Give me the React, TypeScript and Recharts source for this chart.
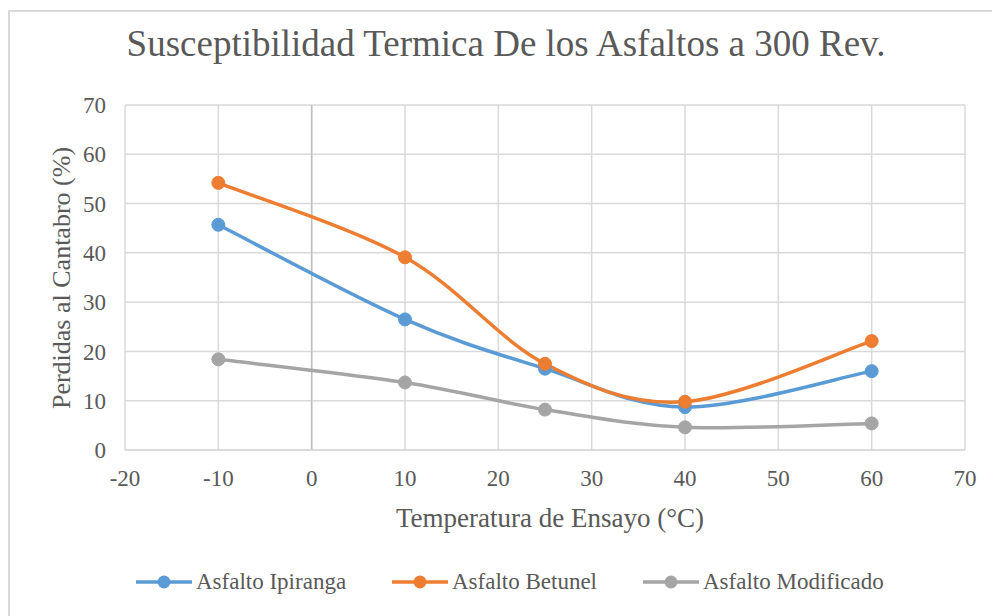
import { LineChart, Line, XAxis, YAxis, CartesianGrid, ReferenceLine } from 'recharts';

const temps = [-10, 10, 25, 40, 60];
const ipiranga = [45.7, 26.5, 16.5, 8.7, 16.0];
const betunel = [54.2, 39.1, 17.5, 9.8, 22.1];
const modificado = [18.4, 13.7, 8.2, 4.6, 5.4];
const xTicks = [-20, -10, 0, 10, 20, 30, 40, 50, 60, 70];
const yTicks = [0, 10, 20, 30, 40, 50, 60, 70];

const series = [
  { key: 'ipiranga', name: 'Asfalto Ipiranga', color: '#5B9BD5' },
  { key: 'betunel', name: 'Asfalto Betunel', color: '#ED7D31' },
  { key: 'modificado', name: 'Asfalto Modificado', color: '#A5A5A5' },
];

const data = temps.map((x, i) => ({
  x,
  ipiranga: ipiranga[i],
  betunel: betunel[i],
  modificado: modificado[i],
}));

const FONT = '"Liberation Serif", "Times New Roman", serif';
const TEXT = '#595959';

// excel-ish smoothed line (catmull-rom through the points)
function excelSmooth(context: any) {
  let pts: number[][] = [];
  return {
    areaStart() {},
    areaEnd() {},
    lineStart() { pts = []; },
    point(x: number, y: number) { pts.push([+x, +y]); },
    lineEnd() {
      if (!pts.length) return;
      context.moveTo(pts[0][0], pts[0][1]);
      for (let i = 0; i < pts.length - 1; i++) {
        const p0 = pts[i - 1] || pts[i];
        const p1 = pts[i];
        const p2 = pts[i + 1];
        const p3 = pts[i + 2] || p2;
        context.bezierCurveTo(
          p1[0] + (p2[0] - p0[0]) / 6, p1[1] + (p2[1] - p0[1]) / 6,
          p2[0] - (p3[0] - p1[0]) / 6, p2[1] - (p3[1] - p1[1]) / 6,
          p2[0], p2[1],
        );
      }
    },
  };
}

function LegendItem({ name, color, left }: { name: string; color: string; left: number }) {
  return (
    <div style={{ position: 'absolute', left, top: 0, display: 'flex', alignItems: 'center', whiteSpace: 'nowrap' }}>
      <svg width={56} height={14}>
        <line x1={0} y1={7} x2={56} y2={7} stroke={color} strokeWidth={3.5} />
        <circle cx={28} cy={7} r={6.5} fill={color} />
      </svg>
      <span style={{ marginLeft: 4, fontSize: 23, color: TEXT }}>{name}</span>
    </div>
  );
}

export default function App() {
  return (
    <div style={{ position: 'absolute', left: 0, top: 0, width: 992, height: 616, overflow: 'hidden', background: '#fff', fontFamily: FONT }}>
      <div style={{ position: 'absolute', left: 8, top: 10, width: 1000, height: 620, border: '2px solid #d9d9d9', boxSizing: 'border-box' }} />
      <div style={{ position: 'absolute', left: 0, top: 22, width: 1012, textAlign: 'center', fontSize: 37, color: TEXT, whiteSpace: 'nowrap' }}>
        Susceptibilidad Termica De los Asfaltos a 300 Rev.
      </div>
      <LineChart width={992} height={616} data={data} margin={{ top: 105, right: 27, bottom: 0, left: 0 }}>
        <CartesianGrid stroke="#d9d9d9" strokeWidth={1.5} />
        <XAxis
          type="number" dataKey="x" domain={[-20, 70]} ticks={xTicks} interval={0}
          height={166} tickSize={0} tickMargin={20}
          axisLine={{ stroke: '#d9d9d9', strokeWidth: 1.5 }}
          tick={{ fontSize: 23, fill: TEXT, fontFamily: FONT }}
        />
        <YAxis
          type="number" domain={[0, 70]} ticks={yTicks} interval={0}
          width={125} tickSize={0} tickMargin={19} axisLine={false}
          tick={{ fontSize: 23, fill: TEXT, fontFamily: FONT }}
        />
        <ReferenceLine x={0} stroke="#bfbfbf" strokeWidth={1.5} />
        {series.map(s => (
          <Line
            key={s.key}
            type={excelSmooth as any}
            dataKey={s.key}
            name={s.name}
            stroke={s.color}
            strokeWidth={3.5}
            dot={{ r: 6.5, fill: s.color, stroke: s.color, strokeWidth: 1 }}
            activeDot={false}
            isAnimationActive={false}
          />
        ))}
      </LineChart>
      <div style={{ position: 'absolute', left: 550, top: 518, transform: 'translate(-50%, -50%)', fontSize: 27, color: TEXT, whiteSpace: 'nowrap' }}>
        Temperatura de Ensayo (°C)
      </div>
      <div style={{ position: 'absolute', left: 62, top: 278, transform: 'translate(-50%, -50%) rotate(-90deg)', fontSize: 26, color: TEXT, whiteSpace: 'nowrap' }}>
        Perdidas al Cantabro (%)
      </div>
      <div style={{ position: 'absolute', left: 136, top: 569, width: 850, height: 30 }}>
        <LegendItem {...series[0]} left={0} />
        <LegendItem {...series[1]} left={256} />
        <LegendItem {...series[2]} left={507} />
      </div>
    </div>
  );
}
